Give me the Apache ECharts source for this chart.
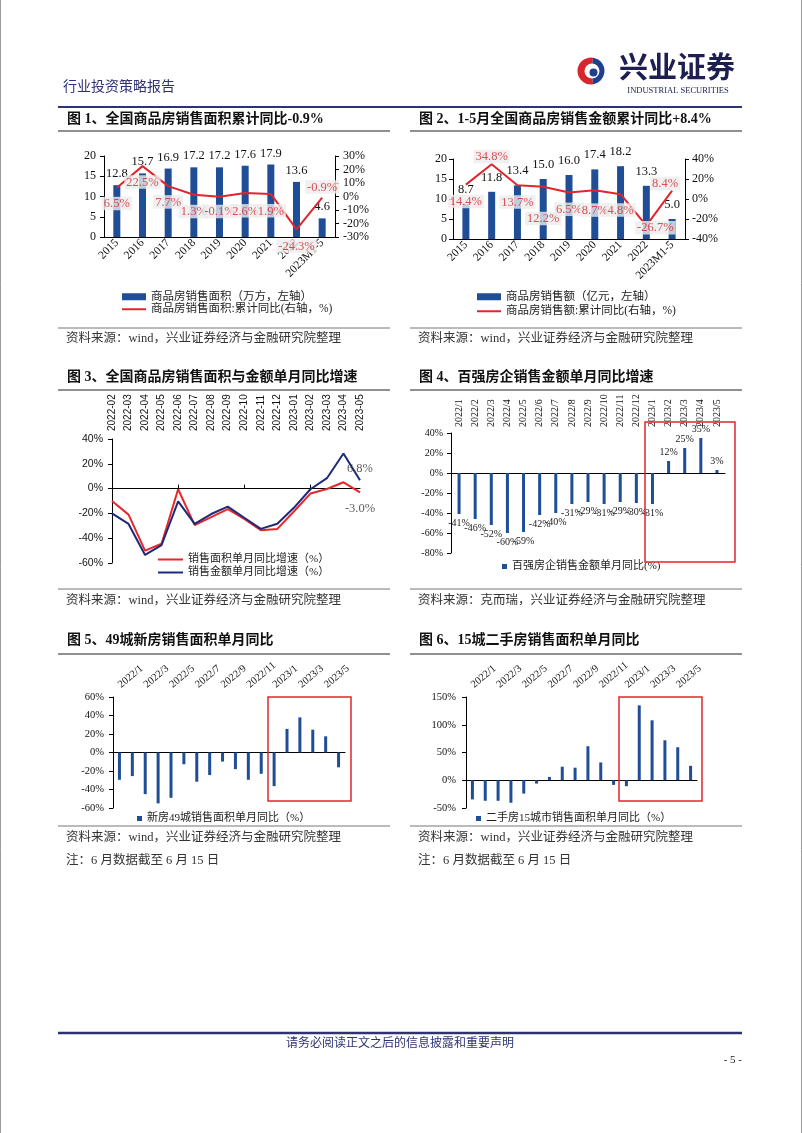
<!DOCTYPE html>
<html><head><meta charset="utf-8">
<script src="https://cdn.jsdelivr.net/npm/echarts@6/dist/echarts.min.js"></script>
<style>html,body{margin:0;padding:0;background:#fff}#c{width:802px;height:1133px}</style>
</head><body><div id="c"></div>
<script>
const SERIF = "'Liberation Serif','Noto Sans CJK SC',serif";
const SANS = "'Liberation Sans','Noto Sans CJK SC',sans-serif";

// ---- data ----
const years = ['2015','2016','2017','2018','2019','2020','2021','2022','2023M1-5'];
const areaTotal = [12.8,15.7,16.9,17.2,17.2,17.6,17.9,13.6,4.6];
const areaYoY = [6.5,22.5,7.7,1.3,-0.1,2.6,1.9,-24.3,-0.9];
const salesTotal = [8.7,11.8,13.4,15.0,16.0,17.4,18.2,13.3,5.0];
const salesYoY = [14.4,34.8,13.7,12.2,6.5,8.7,4.8,-26.7,8.4];

const months3 = ['2022-02','2022-03','2022-04','2022-05','2022-06','2022-07','2022-08','2022-09','2022-10','2022-11','2022-12','2023-01','2023-02','2023-03','2023-04','2023-05'];
const areaMonthly = [-10,-21,-50,-44.5,-0.5,-29.5,-23,-16.5,-24.5,-33.5,-32.5,-18.5,-4,-0.3,5.1,-3.0];
const salesMonthly = [-20,-28.5,-53.5,-45.5,-10.3,-28.5,-20.5,-14.5,-23.5,-32.5,-28.3,-15.5,-0.5,8.4,28.3,6.8];

const months4 = ['2022/1','2022/2','2022/3','2022/4','2022/5','2022/6','2022/7','2022/8','2022/9','2022/10','2022/11','2022/12','2023/1','2023/2','2023/3','2023/4','2023/5'];
const top100 = [-41,-46,-52,-60,-59,-42,-40,-31,-29,-31,-29,-30,-31,12,25,35,3];

const months56 = ['2022/1','2022/2','2022/3','2022/4','2022/5','2022/6','2022/7','2022/8','2022/9','2022/10','2022/11','2022/12','2023/1','2023/2','2023/3','2023/4','2023/5','2023/6'];
const newHome49 = [-29.5,-25.5,-45,-55,-49,-12.7,-31.6,-24.4,-9.8,-18,-29.5,-23,-36.4,25.5,38,24.7,17.5,-16];
const second15 = [-34.5,-37,-37,-40.5,-24,-6,6,24.4,22.6,61.3,32,-8.3,-10.7,135,108,72,59.5,26];

// ---- label placement (style) ----
const place1 = [['bottom',9],['bottom',9],['bottom',9],['bottom',10],['bottom',8],['bottom',11],['bottom',10],['bottom',10],['top',4]];
const place2 = [['bottom',10],['top',1],['bottom',10],['bottom',25],['bottom',10],['bottom',13],['bottom',9],['inside',0,[9,2]],['inside',0,[-7,-7]]];

const BLUE = '#1f4e96';
const RED = '#e0262c';
const NAVY = '#2e3272';

const chart = echarts.init(document.getElementById('c'), null, {renderer:'canvas'});

function yA(grid, min, max, interval, extra) {
  return Object.assign({
    type:'value', gridIndex:grid, min:min, max:max, interval:interval,
    splitLine:{show:false},
    axisLine:{show:true, onZero:false, lineStyle:{color:'#000', width:1}},
    axisTick:{show:true, length:4, lineStyle:{color:'#000'}},
    axisLabel:{color:'#111', fontFamily:SERIF, fontSize:12, margin:8}
  }, extra || {});
}
function lbl(font, size, margin, more) {
  return Object.assign({color:'#111', fontFamily:font, fontSize:size, margin:margin}, more || {});
}

function overlay(vals, places, xi, yi, color) {
  return {
    type:'scatter', xAxisIndex:xi, yAxisIndex:yi, silent:true, z:10,
    symbolSize:0.1, itemStyle:{color:'rgba(0,0,0,0)'},
    data: vals.map((v,i)=>({value:v, label:{position:places[i][0], distance:places[i][1], offset:places[i][2]||[0,0]}})),
    label:{show:true, formatter:p=>Number(p.value).toFixed(1)+'%', color:color, fontFamily:SERIF, fontSize:12.5, backgroundColor:'#ececec', padding:[1,2,0,2]}
  };
}
function endLabel(vals, xi, yi, pos, dist) {
  const last = vals.length-1;
  return {
    type:'scatter', xAxisIndex:xi, yAxisIndex:yi, silent:true, z:10,
    symbolSize:0.1, itemStyle:{color:'rgba(0,0,0,0)'},
    data: vals.map((v,i)=>({value:v, label:{show:i===last, position:pos, distance:dist}})),
    label:{formatter:p=>Number(p.value).toFixed(1)+'%', color:'#333', fontFamily:SERIF, fontSize:12.5}
  };
}

// ---- graphic helpers ----
function txt(x,y,text,font,fill,align){
  return {type:'text', silent:true, style:{x:x, y:y, text:text, font:font, fill:fill||'#111', textAlign:align||'left', textVerticalAlign:'middle'}};
}
function ln(x1,y1,x2,y2,color,w){
  return {type:'line', silent:true, shape:{x1:x1,y1:y1,x2:x2,y2:y2}, style:{stroke:color, lineWidth:w}};
}
function box(x,y,w,h){
  return {type:'rect', silent:true, z:100, shape:{x:x,y:y,width:w,height:h}, style:{fill:'none', stroke:'#e3262d', lineWidth:1.5}};
}

const TITLE = "bold 14px " + SERIF;
const SRC = "12.5px " + SERIF;
const srcWind = '资料来源：wind，兴业证券经济与金融研究院整理';
const noLegendDot = {opacity:0};

const graphics = [
  ln(0.5,0,0.5,1133,'#9a9a9a',1), ln(801.5,0,801.5,1133,'#9a9a9a',1),
  txt(63,87,'行业投资策略报告',"14px "+SERIF,NAVY),
  {type:'sector', silent:true, shape:{cx:591,cy:71,r:13.5,r0:0,startAngle:Math.PI*0.45,endAngle:Math.PI*1.55}, style:{fill:'#d7262e'}},
  {type:'sector', silent:true, shape:{cx:591,cy:71,r:13.5,r0:0,startAngle:-Math.PI*0.45,endAngle:Math.PI*0.45}, style:{fill:'#1f3f8f'}},
  {type:'circle', silent:true, shape:{cx:592,cy:71,r:7.5}, style:{fill:'#fff'}},
  {type:'circle', silent:true, shape:{cx:593.5,cy:72.5,r:4}, style:{fill:'#1f3f8f'}},
  txt(619,71,'兴业证券',"bold 29px "+SERIF,'#1c1f50'),
  txt(678,91,'INDUSTRIAL SECURITIES',"8.5px 'Liberation Serif'",'#1c1f50','center'),
  ln(58,107,742,107,NAVY,2),

  txt(67,119,'图 1、全国商品房销售面积累计同比-0.9%',TITLE),
  txt(419,119,'图 2、1-5月全国商品房销售金额累计同比+8.4%',TITLE),
  txt(67,377,'图 3、全国商品房销售面积与金额单月同比增速',TITLE),
  txt(419,377,'图 4、百强房企销售金额单月同比增速',TITLE),
  txt(67,640,'图 5、49城新房销售面积单月同比',TITLE),
  txt(419,640,'图 6、15城二手房销售面积单月同比',TITLE),

  ln(58,131,390,131,'#222',1.2), ln(410,131,742,131,'#222',1.2),
  ln(58,390,390,390,'#222',1.2), ln(410,390,742,390,'#222',1.2),
  ln(58,654,390,654,'#222',1.2), ln(410,654,742,654,'#222',1.2),

  ln(58,328,390,328,'#777',1), ln(410,328,742,328,'#777',1),
  ln(58,589,390,589,'#777',1), ln(410,589,742,589,'#777',1),
  ln(58,826,390,826,'#777',1), ln(410,826,742,826,'#777',1),

  txt(66,339,srcWind,SRC,'#333'), txt(418,339,srcWind,SRC,'#333'),
  txt(66,601,srcWind,SRC,'#333'), txt(418,601,'资料来源：克而瑞，兴业证券经济与金融研究院整理',SRC,'#333'),
  txt(66,838,srcWind,SRC,'#333'), txt(418,838,srcWind,SRC,'#333'),
  txt(66,861,'注：6 月数据截至 6 月 15 日',SRC,'#333'), txt(418,861,'注：6 月数据截至 6 月 15 日',SRC,'#333'),

  box(645,422,90,140), box(268,697,83,104), box(619,697,83,104),

  ln(58,1033,742,1033,NAVY,2.5),
  txt(400,1044,'请务必阅读正文之后的信息披露和重要声明',"12px "+SERIF,NAVY,'center'),
  txt(742,1060,'- 5 -',"11px "+SERIF,'#222','right')
];

const option = {
  animation:false,
  backgroundColor:'#fff',
  grid:[
    {left:104, top:156, width:231, height:81},
    {left:453, top:159, width:232, height:80},
    {left:112, top:439, width:248, height:124},
    {left:451, top:433, width:274, height:120},
    {left:113, top:697, width:232, height:111},
    {left:466, top:697, width:231, height:111}
  ],
  xAxis:[
    {type:'category', gridIndex:0, data:years, axisTick:{show:false}, axisLine:{lineStyle:{color:'#000'}}, axisLabel:lbl(SERIF,11.5,4,{rotate:45, interval:0})},
    {type:'category', gridIndex:1, data:years, axisTick:{show:false}, axisLine:{lineStyle:{color:'#000'}}, axisLabel:lbl(SERIF,11.5,4,{rotate:45, interval:0})},
    {type:'category', gridIndex:2, position:'top', data:months3, boundaryGap:false, axisLine:{show:false, onZero:false}, axisTick:{show:false}, axisLabel:lbl(SANS,10,8,{rotate:-90, interval:0})},
    {type:'category', gridIndex:2, position:'bottom', data:months3, boundaryGap:false, axisLine:{onZero:true, lineStyle:{color:'#000'}}, axisTick:{show:true, inside:true, length:4, lineStyle:{color:'#000'}}, axisLabel:{show:false}},
    {type:'category', gridIndex:3, position:'top', data:months4, axisLine:{show:false, onZero:false}, axisTick:{show:false}, axisLabel:lbl(SERIF,10,6,{rotate:-90, interval:0})},
    {type:'category', gridIndex:3, position:'bottom', data:months4, axisLine:{onZero:true, lineStyle:{color:'#000'}}, axisTick:{show:false}, axisLabel:{show:false}},
    {type:'category', gridIndex:4, position:'top', data:months56, axisLine:{show:false, onZero:false}, axisTick:{show:false}, axisLabel:lbl(SERIF,10.5,11,{rotate:-40, interval:1})},
    {type:'category', gridIndex:4, position:'bottom', data:months56, axisLine:{onZero:true, lineStyle:{color:'#000'}}, axisTick:{show:false}, axisLabel:{show:false}},
    {type:'category', gridIndex:5, position:'top', data:months56, axisLine:{show:false, onZero:false}, axisTick:{show:false}, axisLabel:lbl(SERIF,10.5,11,{rotate:-40, interval:1})},
    {type:'category', gridIndex:5, position:'bottom', data:months56, axisLine:{onZero:true, lineStyle:{color:'#000'}}, axisTick:{show:false}, axisLabel:{show:false}}
  ],
  yAxis:[
    yA(0,0,20,5,{position:'left'}),
    yA(0,-30,30,10,{position:'right', axisLabel:lbl(SERIF,12,8,{formatter:'{value}%'})}),
    yA(1,0,20,5,{position:'left', axisLabel:lbl(SERIF,12,6)}),
    yA(1,-40,40,20,{position:'right', axisLabel:lbl(SERIF,12,7,{formatter:'{value}%'})}),
    yA(2,-60,40,20,{axisLabel:lbl(SANS,10.5,9,{formatter:'{value}%'})}),
    yA(3,-80,40,20,{axisLabel:lbl(SERIF,10,8,{formatter:'{value}%'})}),
    yA(4,-60,60,20,{axisLabel:lbl(SERIF,10.5,9,{formatter:'{value}%'})}),
    yA(5,-50,150,50,{axisLabel:lbl(SERIF,10.5,10,{formatter:'{value}%'})})
  ],
  legend:[
    {left:116, top:286, orient:'vertical', itemGap:1, itemWidth:24, itemHeight:7, selectedMode:false,
     data:[{name:'商品房销售面积（万方，左轴）', icon:'rect'}, {name:'商品房销售面积:累计同比(右轴，%)', itemStyle:noLegendDot}],
     textStyle:{fontFamily:SERIF, fontSize:11.5, color:'#222'}},
    {left:471, top:286, orient:'vertical', itemGap:3, itemWidth:24, itemHeight:7, selectedMode:false,
     data:[{name:'商品房销售额（亿元，左轴）', icon:'rect'}, {name:'商品房销售额:累计同比(右轴，%)', itemStyle:noLegendDot}],
     textStyle:{fontFamily:SERIF, fontSize:11.5, color:'#222'}},
    {left:152, top:549, orient:'vertical', itemGap:2, itemWidth:25, itemHeight:7, selectedMode:false,
     data:[{name:'销售面积单月同比增速（%）', itemStyle:noLegendDot},{name:'销售金额单月同比增速（%）', itemStyle:noLegendDot}],
     textStyle:{fontFamily:SERIF, fontSize:11, color:'#222'}},
    {left:497, top:556, itemWidth:5, itemHeight:5, itemGap:3, selectedMode:false,
     data:[{name:'百强房企销售金额单月同比(%)', icon:'rect'}], textStyle:{fontFamily:SERIF, fontSize:11, color:'#222'}},
    {left:132, top:808, itemWidth:5, itemHeight:5, selectedMode:false,
     data:[{name:'新房49城销售面积单月同比（%）', icon:'rect'}], textStyle:{fontFamily:SERIF, fontSize:11, color:'#222'}},
    {left:471, top:808, itemWidth:5, itemHeight:5, selectedMode:false,
     data:[{name:'二手房15城市销售面积单月同比（%）', icon:'rect'}], textStyle:{fontFamily:SERIF, fontSize:11, color:'#222'}}
  ],
  series:[
    {type:'bar', name:'商品房销售面积（万方，左轴）', xAxisIndex:0, yAxisIndex:0, data:areaTotal, barWidth:7, itemStyle:{color:BLUE},
     label:{show:true, position:'top', distance:5, color:'#111', fontFamily:SERIF, fontSize:12.5, formatter:p=>p.value.toFixed(1)}},
    {type:'line', name:'商品房销售面积:累计同比(右轴，%)', xAxisIndex:0, yAxisIndex:1, data:areaYoY, symbol:'none', z:4,
     lineStyle:{color:RED, width:2}, itemStyle:{color:RED}},
    overlay(areaYoY, place1, 0, 1, '#d3262b'),

    {type:'bar', name:'商品房销售额（亿元，左轴）', xAxisIndex:1, yAxisIndex:2, data:salesTotal, barWidth:7, itemStyle:{color:BLUE},
     label:{show:true, position:'top', distance:8, color:'#111', fontFamily:SERIF, fontSize:12.5, formatter:p=>p.value.toFixed(1)}},
    {type:'line', name:'商品房销售额:累计同比(右轴，%)', xAxisIndex:1, yAxisIndex:3, data:salesYoY, symbol:'none', z:4,
     lineStyle:{color:RED, width:2}, itemStyle:{color:RED}},
    overlay(salesYoY, place2, 1, 3, '#d3262b'),

    {type:'line', name:'销售面积单月同比增速（%）', xAxisIndex:2, yAxisIndex:4, data:areaMonthly, symbol:'none',
     lineStyle:{color:'#e8262b', width:2}, itemStyle:{color:'#e8262b'}},
    {type:'line', name:'销售金额单月同比增速（%）', xAxisIndex:2, yAxisIndex:4, data:salesMonthly, symbol:'none',
     lineStyle:{color:'#1c2a78', width:2}, itemStyle:{color:'#1c2a78'}},
    endLabel(salesMonthly, 2, 4, 'top', 5),
    endLabel(areaMonthly, 2, 4, 'bottom', 10),

    {type:'bar', name:'百强房企销售金额单月同比(%)', xAxisIndex:4, yAxisIndex:5, barWidth:3, itemStyle:{color:BLUE},
     data: top100.map(v=>({value:v, label:{position: v<0 ? 'bottom' : 'top'}})),
     label:{show:true, distance:4, color:'#222', fontFamily:SERIF, fontSize:10, formatter:p=>Math.round(p.value)+'%'}},
    {type:'bar', name:'新房49城销售面积单月同比（%）', xAxisIndex:6, yAxisIndex:6, barWidth:3, itemStyle:{color:BLUE}, data:newHome49},
    {type:'bar', name:'二手房15城市销售面积单月同比（%）', xAxisIndex:8, yAxisIndex:7, barWidth:3, itemStyle:{color:BLUE}, data:second15}
  ],
  graphic:{elements:graphics}
};
chart.setOption(option);
</script>
</body></html>
